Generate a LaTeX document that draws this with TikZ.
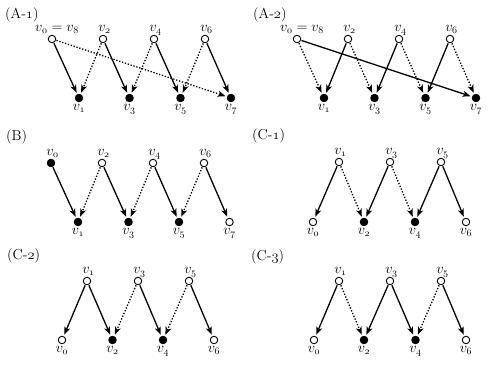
\documentclass[tikz,border=0pt]{standalone}
\usetikzlibrary{arrows.meta}
\newcommand\onum[1]{\ensuremath{\mathnormal{#1}}}
\newcommand\vx[1]{$v_{\mathnormal{#1}}$}
\tikzset{
  vopen/.style={circle,draw,line width=0.9pt,fill=white,inner sep=0pt,minimum size=7.5pt},
  vfill/.style={vopen,fill=black},
  sarr/.style={line width=1.3pt,-{Stealth[length=8pt,width=6pt,inset=2.2pt]},shorten >=1.5pt,shorten <=0.5pt},
  darr/.style={sarr,dash pattern=on 1.3pt off 1.7pt},
  lab/.style={inner sep=0pt,anchor=base,font=\fontsize{14.4}{17}\selectfont},
  panel/.style={inner sep=0pt,anchor=base west,font=\fontsize{14.4}{17}\selectfont},
}
% vertex: style, name, x, y, label
\newcommand\tv[5]{\node[#1] (#2) at (#3,#4) {};
  \node[lab] (#2l) at ([yshift=7.5pt,xshift=1.5pt]#2.center) {#5};}
\newcommand\bv[5]{\node[#1] (#2) at (#3,#4) {};
  \node[lab] (#2l) at ([yshift=-12pt]#2.center) {#5};}
\begin{document}
\begin{tikzpicture}[x=1pt,y=-1pt]
\useasboundingbox (0,0) rectangle (496,365);

% ---------- (A-1)
\node[panel] (pA1) at (5,18) {(A-\onum{1})};
\node[vopen] (A1t0) at (52,39) {};
\node[lab] (A1t0l) at ([yshift=7.5pt,xshift=5pt]A1t0.center) {$v_{\mathnormal{0}}=v_{\mathnormal{8}}$};
\tv{vopen}{A1t2}{103}{39}{\vx{2}}
\tv{vopen}{A1t4}{154}{39}{\vx{4}}
\tv{vopen}{A1t6}{205}{39}{\vx{6}}
\bv{vfill}{A1b1}{79}{98}{\vx{1}}
\bv{vfill}{A1b3}{129.5}{98}{\vx{3}}
\bv{vfill}{A1b5}{180.5}{98}{\vx{5}}
\bv{vfill}{A1b7}{231}{98}{\vx{7}}
\draw[sarr] (A1t0) -- (A1b1);
\draw[sarr] (A1t2) -- (A1b3);
\draw[sarr] (A1t4) -- (A1b5);
\draw[sarr] (A1t6) -- (A1b7);
\draw[darr] (A1t2) -- (A1b1);
\draw[darr] (A1t4) -- (A1b3);
\draw[darr] (A1t6) -- (A1b5);
\draw[darr] (A1t0) -- (A1b7);

% ---------- (A-2)
\node[panel] (pA2) at (253,18) {(A-\onum{2})};
\node[vopen] (A2t0) at (297,39) {};
\node[lab] (A2t0l) at ([yshift=7.5pt,xshift=5pt]A2t0.center) {$v_{\mathnormal{0}}=v_{\mathnormal{8}}$};
\tv{vopen}{A2t2}{348}{39}{\vx{2}}
\tv{vopen}{A2t4}{399}{39}{\vx{4}}
\tv{vopen}{A2t6}{450}{39}{\vx{6}}
\bv{vfill}{A2b1}{324}{98}{\vx{1}}
\bv{vfill}{A2b3}{374.5}{98}{\vx{3}}
\bv{vfill}{A2b5}{425.5}{98}{\vx{5}}
\bv{vfill}{A2b7}{476}{98}{\vx{7}}
\draw[darr] (A2t0) -- (A2b1);
\draw[darr] (A2t2) -- (A2b3);
\draw[darr] (A2t4) -- (A2b5);
\draw[darr] (A2t6) -- (A2b7);
\draw[sarr] (A2t2) -- (A2b1);
\draw[sarr] (A2t4) -- (A2b3);
\draw[sarr] (A2t6) -- (A2b5);
\draw[sarr] (A2t0) -- (A2b7);

% ---------- (B)
\node[panel] (pB) at (6,140) {(B)};
\tv{vfill}{Bt0}{51}{163}{\vx{0}}
\tv{vopen}{Bt2}{102}{163}{\vx{2}}
\tv{vopen}{Bt4}{153}{163}{\vx{4}}
\tv{vopen}{Bt6}{204}{163}{\vx{6}}
\bv{vfill}{Bb1}{78}{222}{\vx{1}}
\bv{vfill}{Bb3}{128.5}{222}{\vx{3}}
\bv{vfill}{Bb5}{179}{222}{\vx{5}}
\bv{vopen}{Bb7}{229.5}{222}{\vx{7}}
\draw[sarr] (Bt0) -- (Bb1);
\draw[sarr] (Bt2) -- (Bb3);
\draw[sarr] (Bt4) -- (Bb5);
\draw[sarr] (Bt6) -- (Bb7);
\draw[darr] (Bt2) -- (Bb1);
\draw[darr] (Bt4) -- (Bb3);
\draw[darr] (Bt6) -- (Bb5);

% ---------- (C-1)
\node[panel] (pC1) at (252,139) {(C-\onum{1})};
\tv{vopen}{C1t1}{339}{162}{\vx{1}}
\tv{vopen}{C1t3}{390}{162}{\vx{3}}
\tv{vopen}{C1t5}{441}{162}{\vx{5}}
\bv{vopen}{C1b0}{313}{222}{\vx{0}}
\bv{vfill}{C1b2}{364}{222}{\vx{2}}
\bv{vfill}{C1b4}{415}{222}{\vx{4}}
\bv{vopen}{C1b6}{466}{222}{\vx{6}}
\draw[sarr] (C1t1) -- (C1b0);
\draw[sarr] (C1t3) -- (C1b2);
\draw[sarr] (C1t5) -- (C1b4);
\draw[sarr] (C1t5) -- (C1b6);
\draw[darr] (C1t1) -- (C1b2);
\draw[darr] (C1t3) -- (C1b4);

% ---------- (C-2)
\node[panel] (pC2) at (7,259) {(C-\onum{2})};
\tv{vopen}{C2t1}{87}{281}{\vx{1}}
\tv{vopen}{C2t3}{138}{281}{\vx{3}}
\tv{vopen}{C2t5}{189}{281}{\vx{5}}
\bv{vopen}{C2b0}{62}{340}{\vx{0}}
\bv{vfill}{C2b2}{112.5}{340}{\vx{2}}
\bv{vfill}{C2b4}{163}{340}{\vx{4}}
\bv{vopen}{C2b6}{214}{340}{\vx{6}}
\draw[sarr] (C2t1) -- (C2b0);
\draw[sarr] (C2t1) -- (C2b2);
\draw[sarr] (C2t3) -- (C2b4);
\draw[sarr] (C2t5) -- (C2b6);
\draw[darr] (C2t3) -- (C2b2);
\draw[darr] (C2t5) -- (C2b4);

% ---------- (C-3)
\node[panel] (pC3) at (251,260) {(C-\onum{3})};
\tv{vopen}{C3t1}{339}{281}{\vx{1}}
\tv{vopen}{C3t3}{390}{281}{\vx{3}}
\tv{vopen}{C3t5}{441}{281}{\vx{5}}
\bv{vopen}{C3b0}{314}{340}{\vx{0}}
\bv{vfill}{C3b2}{364}{340}{\vx{2}}
\bv{vfill}{C3b4}{415.5}{340}{\vx{4}}
\bv{vopen}{C3b6}{466}{340}{\vx{6}}
\draw[sarr] (C3t1) -- (C3b0);
\draw[sarr] (C3t3) -- (C3b2);
\draw[sarr] (C3t3) -- (C3b4);
\draw[sarr] (C3t5) -- (C3b6);
\draw[darr] (C3t1) -- (C3b2);
\draw[darr] (C3t5) -- (C3b4);
\end{tikzpicture}
\end{document}
